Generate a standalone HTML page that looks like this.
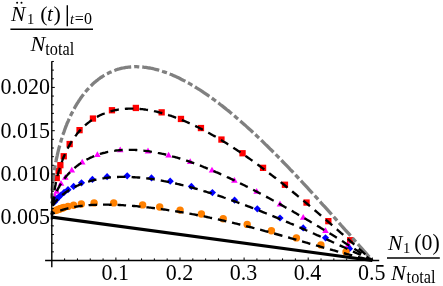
<!DOCTYPE html>
<html><head><meta charset="utf-8"><title>plot</title><style>html,body{margin:0;padding:0;background:#fff;overflow:hidden}body{width:443px;height:286px;position:relative;font-family:"Liberation Serif",serif}</style></head><body>
<svg width="443" height="286" viewBox="0 0 443 286" style="position:absolute;left:0;top:0">
<rect width="443" height="286" fill="#fff"/>
<rect x="53.6" y="174.9" width="6.3" height="6.3" fill="#ff0000"/>
<rect x="55.5" y="167.9" width="6.3" height="6.3" fill="#ff0000"/>
<rect x="57.2" y="162.0" width="6.3" height="6.3" fill="#ff0000"/>
<rect x="60.6" y="153.1" width="6.3" height="6.3" fill="#ff0000"/>
<rect x="66.5" y="140.9" width="6.3" height="6.3" fill="#ff0000"/>
<rect x="76.4" y="127.0" width="6.3" height="6.3" fill="#ff0000"/>
<rect x="89.8" y="115.4" width="6.3" height="6.3" fill="#ff0000"/>
<rect x="108.8" y="107.1" width="6.3" height="6.3" fill="#ff0000"/>
<rect x="132.7" y="104.8" width="6.3" height="6.3" fill="#ff0000"/>
<rect x="158.5" y="109.2" width="6.3" height="6.3" fill="#ff0000"/>
<rect x="177.8" y="115.8" width="6.3" height="6.3" fill="#ff0000"/>
<rect x="197.8" y="124.9" width="6.3" height="6.3" fill="#ff0000"/>
<rect x="218.3" y="136.4" width="6.3" height="6.3" fill="#ff0000"/>
<rect x="239.4" y="150.1" width="6.3" height="6.3" fill="#ff0000"/>
<rect x="259.9" y="164.7" width="6.3" height="6.3" fill="#ff0000"/>
<rect x="281.8" y="181.6" width="6.3" height="6.3" fill="#ff0000"/>
<rect x="303.4" y="199.4" width="6.3" height="6.3" fill="#ff0000"/>
<rect x="325.2" y="218.0" width="6.3" height="6.3" fill="#ff0000"/>
<rect x="347.0" y="237.1" width="6.3" height="6.3" fill="#ff0000"/>
<path d="M55.0,192.5 L58.3,198.3 L51.7,198.3Z" fill="#ff00ff"/>
<path d="M56.8,187.9 L60.1,193.7 L53.5,193.7Z" fill="#ff00ff"/>
<path d="M61.0,180.0 L64.3,185.8 L57.7,185.8Z" fill="#ff00ff"/>
<path d="M65.3,173.9 L68.6,179.7 L62.0,179.7Z" fill="#ff00ff"/>
<path d="M71.8,166.8 L75.1,172.6 L68.5,172.6Z" fill="#ff00ff"/>
<path d="M82.2,158.7 L85.5,164.5 L78.9,164.5Z" fill="#ff00ff"/>
<path d="M97.4,151.3 L100.7,157.1 L94.1,157.1Z" fill="#ff00ff"/>
<path d="M120.2,146.5 L123.5,152.3 L116.9,152.3Z" fill="#ff00ff"/>
<path d="M148.0,147.6 L151.3,153.4 L144.7,153.4Z" fill="#ff00ff"/>
<path d="M168.6,151.7 L171.9,157.5 L165.3,157.5Z" fill="#ff00ff"/>
<path d="M190.2,158.3 L193.5,164.1 L186.9,164.1Z" fill="#ff00ff"/>
<path d="M212.0,166.8 L215.3,172.6 L208.7,172.6Z" fill="#ff00ff"/>
<path d="M234.4,176.9 L237.7,182.7 L231.1,182.7Z" fill="#ff00ff"/>
<path d="M256.7,188.0 L260.0,193.8 L253.4,193.8Z" fill="#ff00ff"/>
<path d="M280.0,200.6 L283.3,206.4 L276.7,206.4Z" fill="#ff00ff"/>
<path d="M303.2,213.9 L306.5,219.7 L299.9,219.7Z" fill="#ff00ff"/>
<path d="M325.5,227.2 L328.8,233.0 L322.2,233.0Z" fill="#ff00ff"/>
<path d="M348.2,241.3 L351.5,247.1 L344.9,247.1Z" fill="#ff00ff"/>
<path d="M54.5,198.3 L58.1,201.9 L54.5,205.5 L50.9,201.9Z" fill="#0000ff"/>
<path d="M56.1,196.3 L59.7,199.9 L56.1,203.5 L52.5,199.9Z" fill="#0000ff"/>
<path d="M61.0,191.4 L64.6,195.0 L61.0,198.6 L57.4,195.0Z" fill="#0000ff"/>
<path d="M64.1,188.8 L67.7,192.4 L64.1,196.0 L60.5,192.4Z" fill="#0000ff"/>
<path d="M68.0,186.1 L71.6,189.7 L68.0,193.3 L64.4,189.7Z" fill="#0000ff"/>
<path d="M73.6,182.8 L77.2,186.4 L73.6,190.0 L70.0,186.4Z" fill="#0000ff"/>
<path d="M81.5,179.2 L85.1,182.8 L81.5,186.4 L77.9,182.8Z" fill="#0000ff"/>
<path d="M92.4,175.8 L96.0,179.4 L92.4,183.0 L88.8,179.4Z" fill="#0000ff"/>
<path d="M107.1,173.1 L110.7,176.7 L107.1,180.3 L103.5,176.7Z" fill="#0000ff"/>
<path d="M127.2,172.2 L130.8,175.8 L127.2,179.4 L123.6,175.8Z" fill="#0000ff"/>
<path d="M151.5,174.3 L155.1,177.9 L151.5,181.5 L147.9,177.9Z" fill="#0000ff"/>
<path d="M170.2,177.6 L173.8,181.2 L170.2,184.8 L166.6,181.2Z" fill="#0000ff"/>
<path d="M191.4,182.8 L195.0,186.4 L191.4,190.0 L187.8,186.4Z" fill="#0000ff"/>
<path d="M212.4,189.0 L216.0,192.6 L212.4,196.2 L208.8,192.6Z" fill="#0000ff"/>
<path d="M234.6,196.6 L238.2,200.2 L234.6,203.8 L231.0,200.2Z" fill="#0000ff"/>
<path d="M257.3,205.2 L260.9,208.8 L257.3,212.4 L253.7,208.8Z" fill="#0000ff"/>
<path d="M280.0,214.4 L283.6,218.0 L280.0,221.6 L276.4,218.0Z" fill="#0000ff"/>
<path d="M303.2,224.3 L306.8,227.9 L303.2,231.5 L299.6,227.9Z" fill="#0000ff"/>
<path d="M325.5,234.2 L329.1,237.8 L325.5,241.4 L321.9,237.8Z" fill="#0000ff"/>
<path d="M349.5,245.1 L353.1,248.7 L349.5,252.3 L345.9,248.7Z" fill="#0000ff"/>
<path d="M58.5,193.7 L62.1,197.3 L58.5,200.9 L54.9,197.3Z" fill="#0000ff"/>
<path d="M57.2,195.0 L60.8,198.6 L57.2,202.2 L53.6,198.6Z" fill="#0000ff"/>
<circle cx="55.4" cy="210.6" r="3.7" fill="#ff8000"/>
<circle cx="58.5" cy="209.4" r="3.7" fill="#ff8000"/>
<circle cx="61.0" cy="208.5" r="3.7" fill="#ff8000"/>
<circle cx="64.0" cy="207.5" r="3.7" fill="#ff8000"/>
<circle cx="68.0" cy="206.4" r="3.7" fill="#ff8000"/>
<circle cx="73.6" cy="205.2" r="3.7" fill="#ff8000"/>
<circle cx="81.3" cy="204.0" r="3.7" fill="#ff8000"/>
<circle cx="94.1" cy="202.9" r="3.7" fill="#ff8000"/>
<circle cx="113.7" cy="202.9" r="3.7" fill="#ff8000"/>
<circle cx="142.6" cy="204.9" r="3.7" fill="#ff8000"/>
<circle cx="159.7" cy="207.0" r="3.7" fill="#ff8000"/>
<circle cx="180.1" cy="210.1" r="3.7" fill="#ff8000"/>
<circle cx="201.4" cy="214.0" r="3.7" fill="#ff8000"/>
<circle cx="223.2" cy="218.7" r="3.7" fill="#ff8000"/>
<circle cx="247.2" cy="224.4" r="3.7" fill="#ff8000"/>
<circle cx="271.4" cy="230.8" r="3.7" fill="#ff8000"/>
<circle cx="296.4" cy="237.9" r="3.7" fill="#ff8000"/>
<circle cx="320.9" cy="244.9" r="3.7" fill="#ff8000"/>
<circle cx="346.0" cy="251.9" r="3.7" fill="#ff8000"/>
<circle cx="57.0" cy="209.9" r="3.7" fill="#ff8000"/>
<circle cx="60.0" cy="208.8" r="3.7" fill="#ff8000"/>
<circle cx="62.5" cy="208.0" r="3.7" fill="#ff8000"/>
<path d="M51.8,203.2 L51.8,202.1 L51.8,200.9 L51.8,199.7 L51.9,198.6 L51.9,197.4 L51.9,196.2 L52.0,195.0 L52.0,193.8 L52.1,192.6 L52.2,191.4 L52.2,190.2 L52.3,189.0 L52.4,187.8 L52.5,186.5 L52.6,185.3 L52.7,184.1 L52.8,182.8 L53.0,181.6 L53.1,180.4 L53.2,179.1 L53.4,177.9 L53.5,176.6 L53.7,175.4 L53.9,174.1 L54.0,172.9 L54.2,171.6 L54.4,170.4 L54.6,169.1 L54.8,167.9 L55.0,166.6 L55.2,165.3 L55.5,164.1 L55.7,162.8 L55.9,161.6 L56.2,160.3 L56.4,159.1 L56.7,157.8 L57.0,156.6 L57.3,155.3 L57.5,154.1 L57.8,152.8 L58.1,151.6 L58.4,150.3 L58.7,149.1 L59.1,147.8 L59.4,146.6 L59.7,145.4 L60.1,144.1 L60.4,142.9 L60.8,141.7 L61.1,140.5 L61.5,139.3 L61.9,138.1 L62.3,136.8 L62.6,135.6 L63.0,134.5 L63.4,133.3 L63.9,132.1 L64.3,130.9 L64.7,129.7 L65.1,128.6 L65.6,127.4 L66.0,126.2 L66.5,125.1 L66.9,123.9 L67.4,122.8 L67.9,121.7 L68.4,120.6 L68.9,119.4 L69.4,118.3 L69.9,117.2 L70.4,116.1 L70.9,115.1 L71.4,114.0 L72.0,112.9 L72.5,111.9 L73.1,110.8 L73.6,109.8 L74.2,108.7 L74.7,107.7 L75.3,106.7 L75.9,105.7 L76.5,104.7 L77.1,103.7 L77.7,102.7 L78.3,101.8 L78.9,100.8 L79.6,99.9 L80.2,98.9 L80.8,98.0 L81.5,97.1 L82.1,96.2 L82.8,95.3 L83.5,94.4 L84.2,93.5 L84.8,92.7 L85.5,91.8 L86.2,91.0 L86.9,90.2 L87.6,89.4 L88.4,88.6 L89.1,87.8 L89.8,87.0 L90.6,86.2 L91.3,85.5 L92.1,84.8 L92.8,84.0 L93.6,83.3 L94.4,82.6 L95.2,81.9 L96.0,81.3 L96.8,80.6 L97.6,80.0 L98.4,79.3 L99.2,78.7 L100.0,78.1 L100.9,77.5 L101.7,77.0 L102.6,76.4 L103.4,75.9 L104.3,75.3 L105.2,74.8 L106.0,74.3 L106.9,73.8 L107.8,73.4 L108.7,72.9 L109.6,72.5 L110.5,72.1 L111.5,71.7 L112.4,71.3 L113.3,70.9 L114.3,70.5 L115.2,70.2 L116.2,69.8 L117.1,69.5 L118.1,69.2 L119.1,69.0 L120.1,68.7 L121.1,68.4 L122.1,68.2 L123.1,68.0 L124.1,67.8 L125.1,67.6 L126.1,67.4 L127.2,67.3 L128.2,67.2 L129.3,67.1 L130.3,67.0 L131.4,66.9 L132.5,66.8 L133.5,66.8 L134.6,66.7 L135.7,66.7 L136.8,66.7 L137.9,66.8 L139.0,66.8 L140.2,66.9 L141.3,66.9 L142.4,67.0 L143.6,67.2 L144.7,67.3 L145.9,67.4 L147.0,67.6 L148.2,67.8 L149.4,68.0 L150.6,68.2 L151.8,68.5 L153.0,68.7 L154.2,69.0 L155.4,69.3 L156.6,69.6 L157.9,69.9 L159.1,70.3 L160.3,70.7 L161.6,71.1 L162.8,71.5 L164.1,71.9 L165.4,72.3 L166.7,72.8 L168.0,73.3 L169.2,73.8 L170.5,74.3 L171.9,74.8 L173.2,75.4 L174.5,76.0 L175.8,76.6 L177.2,77.2 L178.5,77.8 L179.9,78.5 L181.2,79.2 L182.6,79.9 L184.0,80.6 L185.3,81.3 L186.7,82.1 L188.1,82.8 L189.5,83.6 L190.9,84.4 L192.3,85.3 L193.8,86.1 L195.2,87.0 L196.6,87.9 L198.1,88.8 L199.5,89.7 L201.0,90.6 L202.5,91.6 L203.9,92.6 L205.4,93.6 L206.9,94.6 L208.4,95.7 L209.9,96.7 L211.4,97.8 L212.9,98.9 L214.4,100.0 L216.0,101.2 L217.5,102.3 L219.1,103.5 L220.6,104.7 L222.2,105.9 L223.7,107.1 L225.3,108.4 L226.9,109.7 L228.5,110.9 L230.1,112.3 L231.7,113.6 L233.3,114.9 L234.9,116.3 L236.5,117.7 L238.2,119.1 L239.8,120.5 L241.4,122.0 L243.1,123.4 L244.8,124.9 L246.4,126.4 L248.1,127.9 L249.8,129.4 L251.5,131.0 L253.2,132.6 L254.9,134.2 L256.6,135.8 L258.3,137.4 L260.0,139.0 L261.8,140.7 L263.5,142.4 L265.2,144.1 L267.0,145.8 L268.7,147.5 L270.5,149.3 L272.3,151.0 L274.1,152.8 L275.9,154.6 L277.7,156.4 L279.5,158.2 L281.3,160.1 L283.1,162.0 L284.9,163.8 L286.7,165.7 L288.6,167.7 L290.4,169.6 L292.3,171.5 L294.1,173.5 L296.0,175.5 L297.9,177.5 L299.8,179.5 L301.7,181.5 L303.6,183.6 L305.5,185.6 L307.4,187.7 L309.3,189.8 L311.2,191.9 L313.1,194.0 L315.1,196.1 L317.0,198.2 L319.0,200.4 L320.9,202.6 L322.9,204.8 L324.9,206.9 L326.9,209.2 L328.9,211.4 L330.9,213.6 L332.9,215.9 L334.9,218.1 L336.9,220.4 L338.9,222.7 L340.9,225.0 L343.0,227.3 L345.0,229.6 L347.1,231.9 L349.2,234.2 L351.2,236.6 L353.3,238.9 L355.4,241.3 L357.5,243.7 L359.6,246.0 L361.7,248.4 L363.8,250.8 L365.9,253.2 L368.0,255.6 L370.2,258.1 L372.3,260.5" fill="none" stroke="#808080" stroke-width="3.3" stroke-dasharray="17.3 3 5.1 3" stroke-dashoffset="15.65"/>
<path d="M51.8,225.8 L51.8,224.5 L51.8,223.2 L51.8,221.8 L51.9,220.5 L51.9,219.2 L51.9,217.8 L52.0,216.5 L52.0,215.2 L52.1,213.9 L52.2,212.6 L52.2,211.3 L52.3,210.0 L52.4,208.7 L52.5,207.4 L52.6,206.1 L52.7,204.8 L52.8,203.5 L53.0,202.3 L53.1,201.0 L53.2,199.7 L53.4,198.5 L53.5,197.2 L53.7,196.0 L53.9,194.7 L54.0,193.5 L54.2,192.3 L54.4,191.0 L54.6,189.8 L54.8,188.6 L55.0,187.4 L55.2,186.2 L55.5,185.0 L55.7,183.8 L55.9,182.7 L56.2,181.5 L56.4,180.3 L56.7,179.2 L57.0,178.0 L57.3,176.9 L57.5,175.7 L57.8,174.6 L58.1,173.5 L58.4,172.4 L58.7,171.2 L59.1,170.1 L59.4,169.1 L59.7,168.0 L60.1,166.9 L60.4,165.8 L60.8,164.8 L61.1,163.7 L61.5,162.7 L61.9,161.6 L62.3,160.6 L62.6,159.6 L63.0,158.6 L63.4,157.6 L63.9,156.6 L64.3,155.6 L64.7,154.6 L65.1,153.6 L65.6,152.7 L66.0,151.7 L66.5,150.8 L66.9,149.8 L67.4,148.9 L67.9,148.0 L68.4,147.1 L68.9,146.2 L69.4,145.3 L69.9,144.4 L70.4,143.5 L70.9,142.7 L71.4,141.8 L72.0,141.0 L72.5,140.2 L73.1,139.3 L73.6,138.5 L74.2,137.7 L74.7,136.9 L75.3,136.1 L75.9,135.4 L76.5,134.6 L77.1,133.8 L77.7,133.1 L78.3,132.4 L78.9,131.6 L79.6,130.9 L80.2,130.2 L80.8,129.5 L81.5,128.9 L82.1,128.2 L82.8,127.5 L83.5,126.9 L84.2,126.2 L84.8,125.6 L85.5,125.0 L86.2,124.4 L86.9,123.8 L87.6,123.2 L88.4,122.6 L89.1,122.1 L89.8,121.5 L90.6,121.0 L91.3,120.4 L92.1,119.9 L92.8,119.4 L93.6,118.9 L94.4,118.4 L95.2,117.9 L96.0,117.5 L96.8,117.0 L97.6,116.6 L98.4,116.1 L99.2,115.7 L100.0,115.3 L100.9,114.9 L101.7,114.5 L102.6,114.2 L103.4,113.8 L104.3,113.5 L105.2,113.1 L106.0,112.8 L106.9,112.5 L107.8,112.2 L108.7,111.9 L109.6,111.6 L110.5,111.3 L111.5,111.1 L112.4,110.8 L113.3,110.6 L114.3,110.4 L115.2,110.2 L116.2,110.0 L117.1,109.8 L118.1,109.6 L119.1,109.5 L120.1,109.3 L121.1,109.2 L122.1,109.1 L123.1,109.0 L124.1,108.9 L125.1,108.8 L126.1,108.7 L127.2,108.7 L128.2,108.6 L129.3,108.6 L130.3,108.6 L131.4,108.6 L132.5,108.6 L133.5,108.6 L134.6,108.6 L135.7,108.7 L136.8,108.7 L137.9,108.8 L139.0,108.9 L140.2,109.0 L141.3,109.1 L142.4,109.2 L143.6,109.4 L144.7,109.5 L145.9,109.7 L147.0,109.8 L148.2,110.0 L149.4,110.2 L150.6,110.5 L151.8,110.7 L153.0,110.9 L154.2,111.2 L155.4,111.4 L156.6,111.7 L157.9,112.0 L159.1,112.3 L160.3,112.7 L161.6,113.0 L162.8,113.3 L164.1,113.7 L165.4,114.1 L166.7,114.5 L168.0,114.9 L169.2,115.3 L170.5,115.7 L171.9,116.2 L173.2,116.6 L174.5,117.1 L175.8,117.6 L177.2,118.1 L178.5,118.6 L179.9,119.2 L181.2,119.7 L182.6,120.3 L184.0,120.8 L185.3,121.4 L186.7,122.0 L188.1,122.6 L189.5,123.3 L190.9,123.9 L192.3,124.6 L193.8,125.2 L195.2,125.9 L196.6,126.6 L198.1,127.3 L199.5,128.1 L201.0,128.8 L202.5,129.6 L203.9,130.3 L205.4,131.1 L206.9,131.9 L208.4,132.7 L209.9,133.6 L211.4,134.4 L212.9,135.3 L214.4,136.1 L216.0,137.0 L217.5,137.9 L219.1,138.8 L220.6,139.8 L222.2,140.7 L223.7,141.7 L225.3,142.6 L226.9,143.6 L228.5,144.6 L230.1,145.6 L231.7,146.7 L233.3,147.7 L234.9,148.8 L236.5,149.8 L238.2,150.9 L239.8,152.0 L241.4,153.1 L243.1,154.3 L244.8,155.4 L246.4,156.6 L248.1,157.7 L249.8,158.9 L251.5,160.1 L253.2,161.3 L254.9,162.5 L256.6,163.8 L258.3,165.0 L260.0,166.3 L261.8,167.6 L263.5,168.9 L265.2,170.2 L267.0,171.5 L268.7,172.9 L270.5,174.2 L272.3,175.6 L274.1,177.0 L275.9,178.3 L277.7,179.8 L279.5,181.2 L281.3,182.6 L283.1,184.0 L284.9,185.5 L286.7,187.0 L288.6,188.5 L290.4,189.9 L292.3,191.5 L294.1,193.0 L296.0,194.5 L297.9,196.1 L299.8,197.6 L301.7,199.2 L303.6,200.8 L305.5,202.4 L307.4,204.0 L309.3,205.6 L311.2,207.2 L313.1,208.8 L315.1,210.5 L317.0,212.1 L319.0,213.8 L320.9,215.5 L322.9,217.2 L324.9,218.9 L326.9,220.6 L328.9,222.3 L330.9,224.1 L332.9,225.8 L334.9,227.6 L336.9,229.3 L338.9,231.1 L340.9,232.9 L343.0,234.7 L345.0,236.5 L347.1,238.3 L349.2,240.1 L351.2,241.9 L353.3,243.7 L355.4,245.6 L357.5,247.4 L359.6,249.3 L361.7,251.1 L363.8,253.0 L365.9,254.9 L368.0,256.7 L370.2,258.6 L372.3,260.5" fill="none" stroke="#000" stroke-width="2.35" stroke-dasharray="8.6 6.052" stroke-dashoffset="8.41"/>
<path d="M51.8,214.4 L51.8,213.8 L51.8,213.2 L51.8,212.6 L51.9,211.9 L51.9,211.3 L51.9,210.7 L52.0,210.1 L52.0,209.5 L52.1,208.9 L52.2,208.3 L52.2,207.7 L52.3,207.0 L52.4,206.4 L52.5,205.8 L52.6,205.2 L52.7,204.6 L52.8,204.0 L53.0,203.4 L53.1,202.7 L53.2,202.1 L53.4,201.5 L53.5,200.9 L53.7,200.3 L53.9,199.7 L54.0,199.1 L54.2,198.4 L54.4,197.8 L54.6,197.2 L54.8,196.6 L55.0,196.0 L55.2,195.4 L55.5,194.8 L55.7,194.2 L55.9,193.6 L56.2,193.0 L56.4,192.4 L56.7,191.7 L57.0,191.1 L57.3,190.5 L57.5,189.9 L57.8,189.3 L58.1,188.7 L58.4,188.1 L58.7,187.5 L59.1,187.0 L59.4,186.4 L59.7,185.8 L60.1,185.2 L60.4,184.6 L60.8,184.0 L61.1,183.4 L61.5,182.8 L61.9,182.3 L62.3,181.7 L62.6,181.1 L63.0,180.5 L63.4,180.0 L63.9,179.4 L64.3,178.8 L64.7,178.3 L65.1,177.7 L65.6,177.2 L66.0,176.6 L66.5,176.1 L66.9,175.5 L67.4,175.0 L67.9,174.4 L68.4,173.9 L68.9,173.4 L69.4,172.8 L69.9,172.3 L70.4,171.8 L70.9,171.3 L71.4,170.8 L72.0,170.3 L72.5,169.8 L73.1,169.3 L73.6,168.8 L74.2,168.3 L74.7,167.8 L75.3,167.3 L75.9,166.8 L76.5,166.4 L77.1,165.9 L77.7,165.4 L78.3,165.0 L78.9,164.5 L79.6,164.1 L80.2,163.6 L80.8,163.2 L81.5,162.8 L82.1,162.3 L82.8,161.9 L83.5,161.5 L84.2,161.1 L84.8,160.7 L85.5,160.3 L86.2,159.9 L86.9,159.5 L87.6,159.1 L88.4,158.8 L89.1,158.4 L89.8,158.0 L90.6,157.7 L91.3,157.3 L92.1,157.0 L92.8,156.7 L93.6,156.3 L94.4,156.0 L95.2,155.7 L96.0,155.4 L96.8,155.1 L97.6,154.8 L98.4,154.5 L99.2,154.3 L100.0,154.0 L100.9,153.7 L101.7,153.5 L102.6,153.2 L103.4,153.0 L104.3,152.8 L105.2,152.6 L106.0,152.3 L106.9,152.1 L107.8,151.9 L108.7,151.8 L109.6,151.6 L110.5,151.4 L111.5,151.2 L112.4,151.1 L113.3,150.9 L114.3,150.8 L115.2,150.7 L116.2,150.5 L117.1,150.4 L118.1,150.3 L119.1,150.2 L120.1,150.2 L121.1,150.1 L122.1,150.0 L123.1,150.0 L124.1,149.9 L125.1,149.9 L126.1,149.8 L127.2,149.8 L128.2,149.8 L129.3,149.8 L130.3,149.8 L131.4,149.8 L132.5,149.8 L133.5,149.9 L134.6,149.9 L135.7,150.0 L136.8,150.0 L137.9,150.1 L139.0,150.2 L140.2,150.3 L141.3,150.4 L142.4,150.5 L143.6,150.6 L144.7,150.8 L145.9,150.9 L147.0,151.1 L148.2,151.2 L149.4,151.4 L150.6,151.6 L151.8,151.8 L153.0,152.0 L154.2,152.2 L155.4,152.4 L156.6,152.6 L157.9,152.9 L159.1,153.1 L160.3,153.4 L161.6,153.7 L162.8,153.9 L164.1,154.2 L165.4,154.5 L166.7,154.8 L168.0,155.2 L169.2,155.5 L170.5,155.8 L171.9,156.2 L173.2,156.6 L174.5,156.9 L175.8,157.3 L177.2,157.7 L178.5,158.1 L179.9,158.5 L181.2,158.9 L182.6,159.4 L184.0,159.8 L185.3,160.3 L186.7,160.7 L188.1,161.2 L189.5,161.7 L190.9,162.2 L192.3,162.7 L193.8,163.2 L195.2,163.7 L196.6,164.3 L198.1,164.8 L199.5,165.3 L201.0,165.9 L202.5,166.5 L203.9,167.1 L205.4,167.7 L206.9,168.3 L208.4,168.9 L209.9,169.5 L211.4,170.1 L212.9,170.8 L214.4,171.4 L216.0,172.1 L217.5,172.7 L219.1,173.4 L220.6,174.1 L222.2,174.8 L223.7,175.5 L225.3,176.2 L226.9,177.0 L228.5,177.7 L230.1,178.4 L231.7,179.2 L233.3,179.9 L234.9,180.7 L236.5,181.5 L238.2,182.3 L239.8,183.1 L241.4,183.9 L243.1,184.7 L244.8,185.5 L246.4,186.4 L248.1,187.2 L249.8,188.1 L251.5,188.9 L253.2,189.8 L254.9,190.7 L256.6,191.6 L258.3,192.5 L260.0,193.4 L261.8,194.3 L263.5,195.2 L265.2,196.1 L267.0,197.1 L268.7,198.0 L270.5,199.0 L272.3,200.0 L274.1,200.9 L275.9,201.9 L277.7,202.9 L279.5,203.9 L281.3,204.9 L283.1,205.9 L284.9,207.0 L286.7,208.0 L288.6,209.0 L290.4,210.1 L292.3,211.1 L294.1,212.2 L296.0,213.3 L297.9,214.4 L299.8,215.5 L301.7,216.6 L303.6,217.7 L305.5,218.8 L307.4,219.9 L309.3,221.0 L311.2,222.2 L313.1,223.3 L315.1,224.5 L317.0,225.7 L319.0,226.8 L320.9,228.0 L322.9,229.2 L324.9,230.4 L326.9,231.6 L328.9,232.8 L330.9,234.1 L332.9,235.3 L334.9,236.5 L336.9,237.8 L338.9,239.1 L340.9,240.3 L343.0,241.6 L345.0,242.9 L347.1,244.2 L349.2,245.5 L351.2,246.8 L353.3,248.1 L355.4,249.5 L357.5,250.8 L359.6,252.2 L361.7,253.5 L363.8,254.9 L365.9,256.3 L368.0,257.7 L370.2,259.1 L372.3,260.5" fill="none" stroke="#000" stroke-width="2.35" stroke-dasharray="8.6 6.051" stroke-dashoffset="5.29"/>
<path d="M51.8,208.7 L51.8,208.6 L51.8,208.4 L51.8,208.3 L51.9,208.1 L51.9,208.0 L51.9,207.8 L52.0,207.6 L52.0,207.5 L52.1,207.3 L52.2,207.1 L52.2,206.9 L52.3,206.7 L52.4,206.5 L52.5,206.3 L52.6,206.1 L52.7,205.8 L52.8,205.6 L53.0,205.4 L53.1,205.1 L53.2,204.9 L53.4,204.7 L53.5,204.4 L53.7,204.2 L53.9,203.9 L54.0,203.6 L54.2,203.4 L54.4,203.1 L54.6,202.8 L54.8,202.6 L55.0,202.3 L55.2,202.0 L55.5,201.7 L55.7,201.4 L55.9,201.2 L56.2,200.9 L56.4,200.6 L56.7,200.3 L57.0,200.0 L57.3,199.7 L57.5,199.4 L57.8,199.1 L58.1,198.8 L58.4,198.5 L58.7,198.1 L59.1,197.8 L59.4,197.5 L59.7,197.2 L60.1,196.9 L60.4,196.6 L60.8,196.3 L61.1,195.9 L61.5,195.6 L61.9,195.3 L62.3,195.0 L62.6,194.7 L63.0,194.4 L63.4,194.0 L63.9,193.7 L64.3,193.4 L64.7,193.1 L65.1,192.8 L65.6,192.4 L66.0,192.1 L66.5,191.8 L66.9,191.5 L67.4,191.2 L67.9,190.9 L68.4,190.6 L68.9,190.3 L69.4,189.9 L69.9,189.6 L70.4,189.3 L70.9,189.0 L71.4,188.7 L72.0,188.4 L72.5,188.1 L73.1,187.8 L73.6,187.5 L74.2,187.2 L74.7,187.0 L75.3,186.7 L75.9,186.4 L76.5,186.1 L77.1,185.8 L77.7,185.5 L78.3,185.3 L78.9,185.0 L79.6,184.7 L80.2,184.5 L80.8,184.2 L81.5,184.0 L82.1,183.7 L82.8,183.4 L83.5,183.2 L84.2,183.0 L84.8,182.7 L85.5,182.5 L86.2,182.2 L86.9,182.0 L87.6,181.8 L88.4,181.6 L89.1,181.4 L89.8,181.1 L90.6,180.9 L91.3,180.7 L92.1,180.5 L92.8,180.3 L93.6,180.2 L94.4,180.0 L95.2,179.8 L96.0,179.6 L96.8,179.4 L97.6,179.3 L98.4,179.1 L99.2,179.0 L100.0,178.8 L100.9,178.7 L101.7,178.5 L102.6,178.4 L103.4,178.3 L104.3,178.1 L105.2,178.0 L106.0,177.9 L106.9,177.8 L107.8,177.7 L108.7,177.6 L109.6,177.5 L110.5,177.4 L111.5,177.3 L112.4,177.3 L113.3,177.2 L114.3,177.1 L115.2,177.1 L116.2,177.0 L117.1,177.0 L118.1,177.0 L119.1,176.9 L120.1,176.9 L121.1,176.9 L122.1,176.9 L123.1,176.9 L124.1,176.9 L125.1,176.9 L126.1,176.9 L127.2,176.9 L128.2,176.9 L129.3,177.0 L130.3,177.0 L131.4,177.0 L132.5,177.1 L133.5,177.2 L134.6,177.2 L135.7,177.3 L136.8,177.4 L137.9,177.5 L139.0,177.5 L140.2,177.6 L141.3,177.8 L142.4,177.9 L143.6,178.0 L144.7,178.1 L145.9,178.2 L147.0,178.4 L148.2,178.5 L149.4,178.7 L150.6,178.8 L151.8,179.0 L153.0,179.2 L154.2,179.4 L155.4,179.6 L156.6,179.8 L157.9,180.0 L159.1,180.2 L160.3,180.4 L161.6,180.6 L162.8,180.8 L164.1,181.1 L165.4,181.3 L166.7,181.6 L168.0,181.8 L169.2,182.1 L170.5,182.4 L171.9,182.7 L173.2,182.9 L174.5,183.2 L175.8,183.5 L177.2,183.9 L178.5,184.2 L179.9,184.5 L181.2,184.8 L182.6,185.2 L184.0,185.5 L185.3,185.9 L186.7,186.2 L188.1,186.6 L189.5,187.0 L190.9,187.3 L192.3,187.7 L193.8,188.1 L195.2,188.5 L196.6,188.9 L198.1,189.3 L199.5,189.8 L201.0,190.2 L202.5,190.6 L203.9,191.1 L205.4,191.5 L206.9,192.0 L208.4,192.5 L209.9,192.9 L211.4,193.4 L212.9,193.9 L214.4,194.4 L216.0,194.9 L217.5,195.4 L219.1,195.9 L220.6,196.4 L222.2,196.9 L223.7,197.5 L225.3,198.0 L226.9,198.6 L228.5,199.1 L230.1,199.7 L231.7,200.3 L233.3,200.8 L234.9,201.4 L236.5,202.0 L238.2,202.6 L239.8,203.2 L241.4,203.8 L243.1,204.4 L244.8,205.0 L246.4,205.7 L248.1,206.3 L249.8,206.9 L251.5,207.6 L253.2,208.2 L254.9,208.9 L256.6,209.6 L258.3,210.3 L260.0,210.9 L261.8,211.6 L263.5,212.3 L265.2,213.0 L267.0,213.7 L268.7,214.4 L270.5,215.1 L272.3,215.9 L274.1,216.6 L275.9,217.3 L277.7,218.1 L279.5,218.8 L281.3,219.6 L283.1,220.4 L284.9,221.1 L286.7,221.9 L288.6,222.7 L290.4,223.5 L292.3,224.2 L294.1,225.0 L296.0,225.9 L297.9,226.7 L299.8,227.5 L301.7,228.3 L303.6,229.1 L305.5,230.0 L307.4,230.8 L309.3,231.6 L311.2,232.5 L313.1,233.3 L315.1,234.2 L317.0,235.1 L319.0,235.9 L320.9,236.8 L322.9,237.7 L324.9,238.6 L326.9,239.5 L328.9,240.4 L330.9,241.3 L332.9,242.2 L334.9,243.1 L336.9,244.0 L338.9,245.0 L340.9,245.9 L343.0,246.8 L345.0,247.8 L347.1,248.7 L349.2,249.7 L351.2,250.6 L353.3,251.6 L355.4,252.6 L357.5,253.5 L359.6,254.5 L361.7,255.5 L363.8,256.5 L365.9,257.5 L368.0,258.5 L370.2,259.5 L372.3,260.5" fill="none" stroke="#000" stroke-width="2.35" stroke-dasharray="8.6 6.076" stroke-dashoffset="11.65"/>
<path d="M51.8,212.9 L51.8,213.0 L51.8,213.1 L51.8,213.2 L51.9,213.2 L51.9,213.3 L51.9,213.3 L52.0,213.4 L52.0,213.4 L52.1,213.4 L52.2,213.5 L52.2,213.5 L52.3,213.5 L52.4,213.5 L52.5,213.5 L52.6,213.4 L52.7,213.4 L52.8,213.4 L53.0,213.4 L53.1,213.3 L53.2,213.3 L53.4,213.2 L53.5,213.2 L53.7,213.1 L53.9,213.1 L54.0,213.0 L54.2,212.9 L54.4,212.9 L54.6,212.8 L54.8,212.7 L55.0,212.6 L55.2,212.5 L55.5,212.5 L55.7,212.4 L55.9,212.3 L56.2,212.2 L56.4,212.1 L56.7,212.0 L57.0,211.9 L57.3,211.7 L57.5,211.6 L57.8,211.5 L58.1,211.4 L58.4,211.3 L58.7,211.2 L59.1,211.1 L59.4,210.9 L59.7,210.8 L60.1,210.7 L60.4,210.6 L60.8,210.5 L61.1,210.3 L61.5,210.2 L61.9,210.1 L62.3,210.0 L62.6,209.8 L63.0,209.7 L63.4,209.6 L63.9,209.5 L64.3,209.3 L64.7,209.2 L65.1,209.1 L65.6,209.0 L66.0,208.8 L66.5,208.7 L66.9,208.6 L67.4,208.5 L67.9,208.3 L68.4,208.2 L68.9,208.1 L69.4,208.0 L69.9,207.9 L70.4,207.8 L70.9,207.6 L71.4,207.5 L72.0,207.4 L72.5,207.3 L73.1,207.2 L73.6,207.1 L74.2,207.0 L74.7,206.9 L75.3,206.8 L75.9,206.7 L76.5,206.6 L77.1,206.5 L77.7,206.4 L78.3,206.3 L78.9,206.2 L79.6,206.1 L80.2,206.0 L80.8,206.0 L81.5,205.9 L82.1,205.8 L82.8,205.7 L83.5,205.6 L84.2,205.6 L84.8,205.5 L85.5,205.4 L86.2,205.4 L86.9,205.3 L87.6,205.2 L88.4,205.2 L89.1,205.1 L89.8,205.1 L90.6,205.0 L91.3,205.0 L92.1,204.9 L92.8,204.9 L93.6,204.9 L94.4,204.8 L95.2,204.8 L96.0,204.8 L96.8,204.7 L97.6,204.7 L98.4,204.7 L99.2,204.7 L100.0,204.7 L100.9,204.6 L101.7,204.6 L102.6,204.6 L103.4,204.6 L104.3,204.6 L105.2,204.6 L106.0,204.6 L106.9,204.6 L107.8,204.6 L108.7,204.6 L109.6,204.7 L110.5,204.7 L111.5,204.7 L112.4,204.7 L113.3,204.7 L114.3,204.8 L115.2,204.8 L116.2,204.9 L117.1,204.9 L118.1,204.9 L119.1,205.0 L120.1,205.0 L121.1,205.1 L122.1,205.1 L123.1,205.2 L124.1,205.3 L125.1,205.3 L126.1,205.4 L127.2,205.5 L128.2,205.5 L129.3,205.6 L130.3,205.7 L131.4,205.8 L132.5,205.9 L133.5,206.0 L134.6,206.0 L135.7,206.1 L136.8,206.2 L137.9,206.3 L139.0,206.5 L140.2,206.6 L141.3,206.7 L142.4,206.8 L143.6,206.9 L144.7,207.0 L145.9,207.2 L147.0,207.3 L148.2,207.4 L149.4,207.6 L150.6,207.7 L151.8,207.9 L153.0,208.0 L154.2,208.2 L155.4,208.3 L156.6,208.5 L157.9,208.6 L159.1,208.8 L160.3,209.0 L161.6,209.1 L162.8,209.3 L164.1,209.5 L165.4,209.7 L166.7,209.9 L168.0,210.1 L169.2,210.3 L170.5,210.5 L171.9,210.7 L173.2,210.9 L174.5,211.1 L175.8,211.3 L177.2,211.5 L178.5,211.7 L179.9,212.0 L181.2,212.2 L182.6,212.4 L184.0,212.7 L185.3,212.9 L186.7,213.1 L188.1,213.4 L189.5,213.7 L190.9,213.9 L192.3,214.2 L193.8,214.4 L195.2,214.7 L196.6,215.0 L198.1,215.3 L199.5,215.6 L201.0,215.8 L202.5,216.1 L203.9,216.4 L205.4,216.7 L206.9,217.0 L208.4,217.3 L209.9,217.7 L211.4,218.0 L212.9,218.3 L214.4,218.6 L216.0,219.0 L217.5,219.3 L219.1,219.6 L220.6,220.0 L222.2,220.3 L223.7,220.7 L225.3,221.1 L226.9,221.4 L228.5,221.8 L230.1,222.2 L231.7,222.5 L233.3,222.9 L234.9,223.3 L236.5,223.7 L238.2,224.1 L239.8,224.5 L241.4,224.9 L243.1,225.3 L244.8,225.7 L246.4,226.2 L248.1,226.6 L249.8,227.0 L251.5,227.4 L253.2,227.9 L254.9,228.3 L256.6,228.8 L258.3,229.2 L260.0,229.7 L261.8,230.1 L263.5,230.6 L265.2,231.1 L267.0,231.5 L268.7,232.0 L270.5,232.5 L272.3,233.0 L274.1,233.5 L275.9,234.0 L277.7,234.5 L279.5,235.0 L281.3,235.5 L283.1,236.0 L284.9,236.5 L286.7,237.0 L288.6,237.5 L290.4,238.1 L292.3,238.6 L294.1,239.1 L296.0,239.6 L297.9,240.2 L299.8,240.7 L301.7,241.3 L303.6,241.8 L305.5,242.4 L307.4,242.9 L309.3,243.5 L311.2,244.0 L313.1,244.6 L315.1,245.1 L317.0,245.7 L319.0,246.2 L320.9,246.8 L322.9,247.4 L324.9,247.9 L326.9,248.5 L328.9,249.0 L330.9,249.6 L332.9,250.2 L334.9,250.7 L336.9,251.3 L338.9,251.9 L340.9,252.4 L343.0,253.0 L345.0,253.5 L347.1,254.1 L349.2,254.7 L351.2,255.2 L353.3,255.8 L355.4,256.3 L357.5,256.8 L359.6,257.4 L361.7,257.9 L363.8,258.4 L365.9,259.0 L368.0,259.5 L370.2,260.0 L372.3,260.5" fill="none" stroke="#000" stroke-width="2.35" stroke-dasharray="8.6 5.909" stroke-dashoffset="4.93"/>
<path d="M51.8,217.2 L372.3,260.5" stroke="#000" stroke-width="3.2" fill="none"/>
<path d="M45.1,260.5 H379.2 M51.8,61.2 V267.2" stroke="#000" stroke-width="1.4" fill="none"/>
<path d="M64.62,260.5 v-2.1 M77.44,260.5 v-2.1 M90.26,260.5 v-2.1 M103.08,260.5 v-2.1 M115.90,260.5 v-3.0 M128.72,260.5 v-2.1 M141.54,260.5 v-2.1 M154.36,260.5 v-2.1 M167.18,260.5 v-2.1 M180.00,260.5 v-3.0 M192.82,260.5 v-2.1 M205.64,260.5 v-2.1 M218.46,260.5 v-2.1 M231.28,260.5 v-2.1 M244.10,260.5 v-3.0 M256.92,260.5 v-2.1 M269.74,260.5 v-2.1 M282.56,260.5 v-2.1 M295.38,260.5 v-2.1 M308.20,260.5 v-3.0 M321.02,260.5 v-2.1 M333.84,260.5 v-2.1 M346.66,260.5 v-2.1 M359.48,260.5 v-2.1 M372.30,260.5 v-3.0 M51.8,251.85 h2.1 M51.8,243.19 h2.1 M51.8,234.54 h2.1 M51.8,225.88 h2.1 M51.8,217.23 h3.0 M51.8,208.58 h2.1 M51.8,199.92 h2.1 M51.8,191.27 h2.1 M51.8,182.61 h2.1 M51.8,173.96 h3.0 M51.8,165.31 h2.1 M51.8,156.65 h2.1 M51.8,148.00 h2.1 M51.8,139.34 h2.1 M51.8,130.69 h3.0 M51.8,122.04 h2.1 M51.8,113.38 h2.1 M51.8,104.73 h2.1 M51.8,96.07 h2.1 M51.8,87.42 h3.0 M51.8,78.77 h2.1 M51.8,70.11 h2.1 M51.8,61.46 h2.1" stroke="#000" stroke-width="1" fill="none"/>
<g style="filter:grayscale(1)">
<text transform="translate(50,224.1) scale(1,1.07)" text-anchor="end" font-family="Liberation Serif, serif" font-size="22">0.005</text>
<text transform="translate(50,180.9) scale(1,1.07)" text-anchor="end" font-family="Liberation Serif, serif" font-size="22">0.010</text>
<text transform="translate(50,137.6) scale(1,1.07)" text-anchor="end" font-family="Liberation Serif, serif" font-size="22">0.015</text>
<text transform="translate(50,94.3) scale(1,1.07)" text-anchor="end" font-family="Liberation Serif, serif" font-size="22">0.020</text>
<text transform="translate(115.3,279.6) scale(1,1.07)" text-anchor="middle" font-family="Liberation Serif, serif" font-size="22">0.1</text>
<text transform="translate(179.4,279.6) scale(1,1.07)" text-anchor="middle" font-family="Liberation Serif, serif" font-size="22">0.2</text>
<text transform="translate(243.5,279.6) scale(1,1.07)" text-anchor="middle" font-family="Liberation Serif, serif" font-size="22">0.3</text>
<text transform="translate(307.6,279.6) scale(1,1.07)" text-anchor="middle" font-family="Liberation Serif, serif" font-size="22">0.4</text>
<text transform="translate(371.7,279.6) scale(1,1.07)" text-anchor="middle" font-family="Liberation Serif, serif" font-size="22">0.5</text>
<path d="M10.4,29.2 H93" stroke="#000" stroke-width="1.5"/>
<text transform="translate(11.0,20.6) scale(1.08,1.0)" font-family="Liberation Serif, serif" font-size="20" font-style="italic">N</text>
<circle cx="17.1" cy="2.7" r="1.0"/><circle cx="21.5" cy="2.7" r="1.0"/>
<text transform="translate(27,24) scale(1.0,1.0)" font-family="Liberation Serif, serif" font-size="14.5">1</text>
<text transform="translate(40.3,20.8) scale(1.0,1.0)" font-family="Liberation Serif, serif" font-size="22">(</text>
<text transform="translate(47.0,20.6) scale(1.0,1.0)" font-family="Liberation Serif, serif" font-size="21" font-style="italic">t</text>
<text transform="translate(53.6,20.8) scale(1.0,1.0)" font-family="Liberation Serif, serif" font-size="22">)</text>
<path d="M67.3,5.2 V26.2" stroke="#000" stroke-width="1.4"/>
<text transform="translate(70.0,24.2) scale(1.0,1.0)" font-family="Liberation Serif, serif" font-size="14.5" font-style="italic">t</text>
<text transform="translate(74.8,24.2) scale(1.0,1.0)" font-family="Liberation Serif, serif" font-size="16">=</text>
<text transform="translate(84.0,24.2) scale(1.0,1.05)" font-family="Liberation Serif, serif" font-size="16">0</text>
<text transform="translate(30.6,51.4) scale(1.11,1.0)" font-family="Liberation Serif, serif" font-size="20" font-style="italic">N</text>
<text transform="translate(45.3,55.1) scale(1.0,1.1)" font-family="Liberation Serif, serif" font-size="16.3">total</text>
<path d="M387,258.0 H439.8" stroke="#000" stroke-width="1.5"/>
<text transform="translate(388,249.8) scale(1.08,1.0)" font-family="Liberation Serif, serif" font-size="20" font-style="italic">N</text>
<text transform="translate(403.0,253.4) scale(1.0,1.0)" font-family="Liberation Serif, serif" font-size="14.5">1</text>
<text transform="translate(414.3,250.0) scale(1.0,1.04)" font-family="Liberation Serif, serif" font-size="21.8">(0)</text>
<text transform="translate(391,280.0) scale(1.11,1.0)" font-family="Liberation Serif, serif" font-size="20" font-style="italic">N</text>
<text transform="translate(406.6,283.4) scale(1.0,1.1)" font-family="Liberation Serif, serif" font-size="16.3">total</text>
</g>
</svg>
</body></html>
